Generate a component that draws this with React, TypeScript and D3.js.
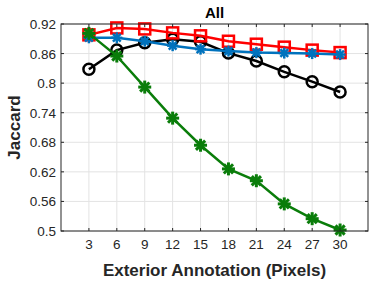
import React from 'react';
import * as d3 from 'd3';

const xs = [3, 6, 9, 12, 15, 18, 21, 24, 27, 30];
const yTicks = [0.5, 0.56, 0.62, 0.68, 0.74, 0.8, 0.86, 0.92];

const blackVals = [0.828, 0.867, 0.882, 0.889, 0.884, 0.861, 0.845, 0.823, 0.803, 0.782];
const redVals = [0.898, 0.912, 0.91, 0.902, 0.896, 0.885, 0.879, 0.873, 0.867, 0.862];
const blueVals = [0.892, 0.892, 0.885, 0.876, 0.869, 0.865, 0.862, 0.861, 0.86, 0.858];
const greenVals = [0.901, 0.855, 0.792, 0.729, 0.674, 0.626, 0.602, 0.555, 0.525, 0.502];

const W = 374;
const H = 282;
const m = { left: 61, right: 6, top: 24, bottom: 51 };

const x = d3.scaleLinear().domain([0, 33]).range([m.left, W - m.right]);
const y = d3.scaleLinear().domain([0.5, 0.92]).range([H - m.bottom, m.top]);

const line = d3.line<number>().x((_, i) => x(xs[i])).y(v => y(v));

const font = '"Liberation Sans", Arial, Helvetica, sans-serif';
const txt = '#262626';

function Marker({ kind, cx, cy, color }: { kind: string; cx: number; cy: number; color: string }) {
  if (kind === 'circle') {
    return <circle cx={cx} cy={cy} r={5.5} fill="none" stroke={color} strokeWidth={2.5} />;
  }
  if (kind === 'square') {
    return <rect x={cx - 5.5} y={cy - 5.5} width={11} height={11} fill="none" stroke={color} strokeWidth={2.5} />;
  }
  const r = kind === 'bigstar' ? 6.5 : 5.5;
  const sw = kind === 'bigstar' ? 3 : 2.5;
  const angles = [0, 45, 90, 135];
  return (
    <g stroke={color} strokeWidth={sw}>
      {angles.map(a => {
        const rad = (a * Math.PI) / 180;
        return (
          <line key={a} x1={cx - r * Math.cos(rad)} y1={cy - r * Math.sin(rad)} x2={cx + r * Math.cos(rad)} y2={cy + r * Math.sin(rad)} />
        );
      })}
    </g>
  );
}

const series = [
  { vals: blackVals, color: '#000000', kind: 'circle' },
  { vals: redVals, color: '#ff0000', kind: 'square' },
  { vals: blueVals, color: '#0072bd', kind: 'star' },
  { vals: greenVals, color: '#0a7d0a', kind: 'bigstar' },
];

export default function App() {
  const x0 = m.left;
  const x1 = W - m.right;
  const y0 = H - m.bottom;
  const y1 = m.top;
  return (
    <svg width={W} height={H} style={{ position: 'absolute', left: 0, top: 0, background: '#fff' }} fontFamily={font}>
      {xs.map(t => (
        <line key={'gx' + t} x1={x(t)} x2={x(t)} y1={y1} y2={y0} stroke="#e3e3e3" strokeWidth={1} />
      ))}
      {yTicks.map(t => (
        <line key={'gy' + t} x1={x0} x2={x1} y1={y(t)} y2={y(t)} stroke="#e3e3e3" strokeWidth={1} />
      ))}
      {series.map(s => (
        <g key={s.kind}>
          <path d={line(s.vals) || ''} fill="none" stroke={s.color} strokeWidth={2.5} />
          {s.vals.map((v, i) => (
            <Marker key={i} kind={s.kind} cx={x(xs[i])} cy={y(v)} color={s.color} />
          ))}
        </g>
      ))}
      <rect x={x0} y={y1} width={x1 - x0} height={y0 - y1} fill="none" stroke={txt} strokeWidth={1} />
      {xs.map(t => (
        <g key={'tx' + t}>
          <line x1={x(t)} x2={x(t)} y1={y0} y2={y0 - 3} stroke={txt} />
          <line x1={x(t)} x2={x(t)} y1={y1} y2={y1 + 3} stroke={txt} />
          <text x={x(t)} y={y0 + 18} textAnchor="middle" fontSize={13.5} fill={txt}>{t}</text>
        </g>
      ))}
      {yTicks.map(t => (
        <g key={'ty' + t}>
          <line x1={x0} x2={x0 + 3} y1={y(t)} y2={y(t)} stroke={txt} />
          <line x1={x1} x2={x1 - 3} y1={y(t)} y2={y(t)} stroke={txt} />
          <text x={x0 - 5} y={y(t) + 5} textAnchor="end" fontSize={13.5} fill={txt}>{d3.format('')(t)}</text>
        </g>
      ))}
      <text x={(x0 + x1) / 2} y={18} textAnchor="middle" fontSize={15} fontWeight="bold" fill="#000">All</text>
      <text x={(x0 + x1) / 2} y={y0 + 45} textAnchor="middle" fontSize={17} fontWeight="bold" fill={txt}>Exterior Annotation (Pixels)</text>
      <text transform={`translate(20,${(y0 + y1) / 2}) rotate(-90)`} textAnchor="middle" fontSize={17} fontWeight="bold" fill={txt}>Jaccard</text>
    </svg>
  );
}
